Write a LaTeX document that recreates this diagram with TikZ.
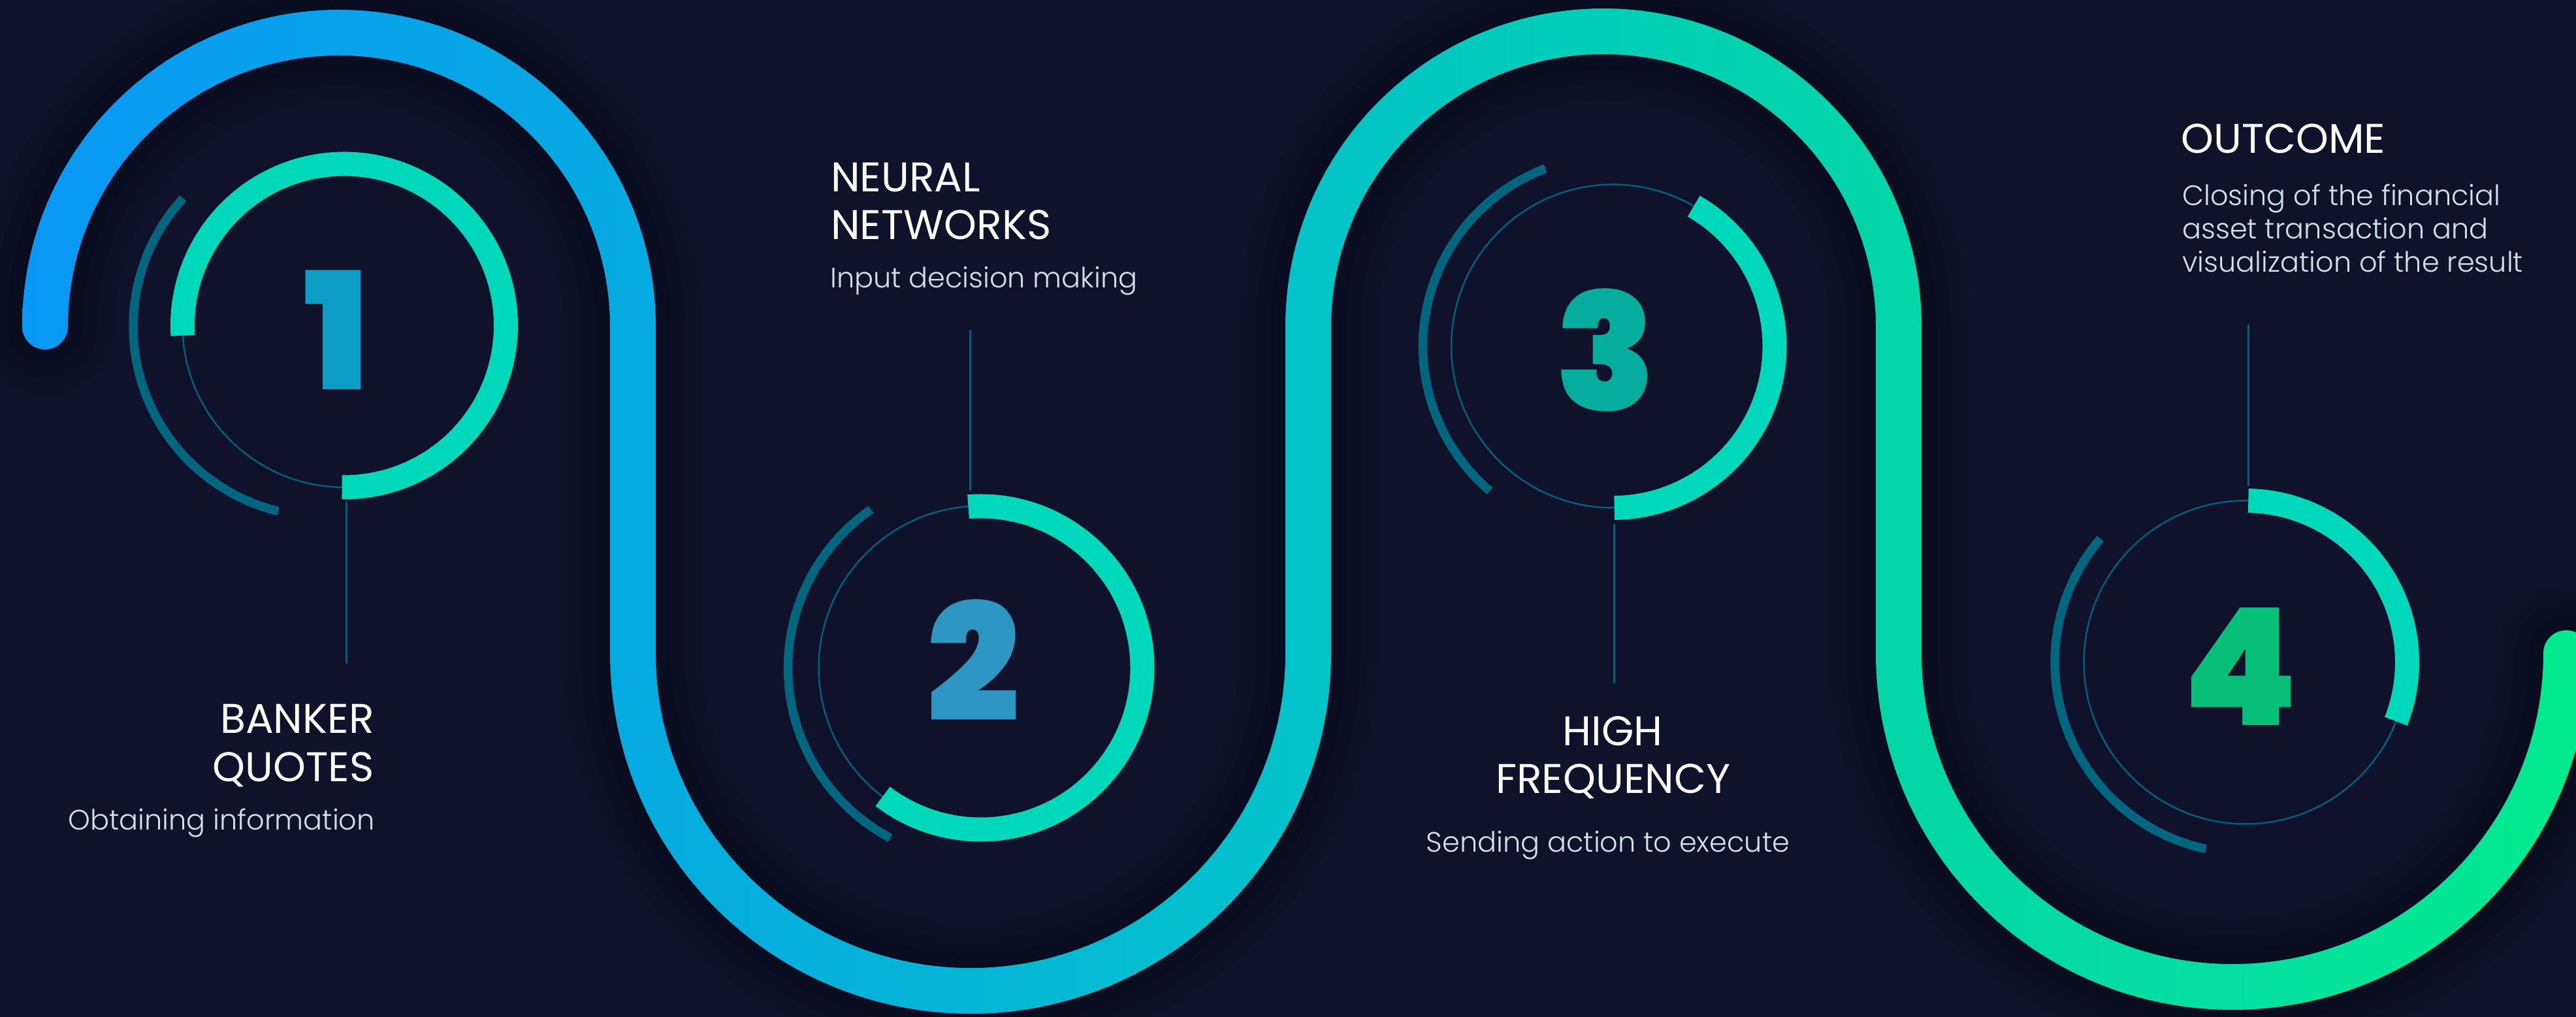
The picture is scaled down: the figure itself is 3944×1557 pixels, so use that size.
\documentclass[tikz,border=0pt]{standalone}
\usepackage{fontspec}
\usetikzlibrary{calc}
\IfFontExistsTF{Poppins Light}{\newfontfamily\sublight{Poppins Light}}{\newfontfamily\sublight{Poppins}}
\IfFontExistsTF{Poppins Black}{\newfontfamily\numfont{Poppins Black}}{\IfFontExistsTF{Poppins ExtraBold}{\newfontfamily\numfont{Poppins ExtraBold}}{\newfontfamily\numfont{Poppins}[FakeBold=2]}}
\newfontfamily\titlefont{Poppins}
\definecolor{bgcol}{HTML}{10122C}
\definecolor{ringcol}{HTML}{00D8BB}
\definecolor{darkarccol}{HTML}{00657F}
\definecolor{thincol}{HTML}{005F7C}
\definecolor{subcol}{HTML}{D3E2EA}
\definecolor{numA}{HTML}{0C9CC6}
\definecolor{numB}{HTML}{2E96C2}
\definecolor{numC}{HTML}{05AD9E}
\definecolor{numD}{HTML}{07BF78}
\definecolor{bA}{HTML}{0A98F6}
\definecolor{bB}{HTML}{06ABE1}
\definecolor{bC}{HTML}{05B5D7}
\definecolor{bD}{HTML}{04C3C9}
\definecolor{bE}{HTML}{02CEB7}
\definecolor{bF}{HTML}{03D6A9}
\definecolor{bG}{HTML}{04DFA0}
\definecolor{bH}{HTML}{02EB8E}
\pgfdeclarehorizontalshading{bandshade}{100bp}{color(0bp)=(bA); color(25bp)=(bA); color(36.9bp)=(bB); color(43.45bp)=(bC); color(50bp)=(bD); color(55.75bp)=(bE); color(61.5bp)=(bF); color(68bp)=(bG); color(75bp)=(bH); color(100bp)=(bH)}
\tikzset{
  greenring/.style={line width=37pt, draw=ringcol},
  outerarc/.style={line width=13.5pt, draw=darkarccol},
  thinring/.style={line width=2.5pt, draw=thincol},
  leader/.style={line width=3pt, draw=thincol},
  ttl/.style={text=white, font=\titlefont\fontsize{63.5}{74}\selectfont, inner sep=0pt},
  subttl/.style={text=subcol, font=\sublight\fontsize{43}{50}\selectfont, inner sep=0pt},
  numlabel/.style={font=\numfont\fontsize{250}{250}\selectfont, inner sep=0pt},
  shadowline/.style={draw=black, line cap=round},
}
\def\bandcenter{(69,1057) arc[start angle=180,end angle=0,radius=450] -- (969,557) arc[start angle=180,end angle=360,radius=517] -- (2003,1057) arc[start angle=180,end angle=0,radius=452] -- (2907,557) arc[start angle=180,end angle=360,radius=511]}
\begin{document}
\begin{tikzpicture}[x=1pt,y=1pt]
\useasboundingbox (0,0) rectangle (3944,1557);
\fill[bgcol] (0,0) rectangle (3944,1557);
% soft shadow of the band
\draw[shadowline, line width=210pt, opacity=0.07] \bandcenter;
\draw[shadowline, line width=160pt, opacity=0.09] \bandcenter;
\draw[shadowline, line width=115pt, opacity=0.12] \bandcenter;
% gradient band
\path[shading=bandshade] (34,1057) arc[start angle=180,end angle=0,radius=485] -- (1004,557)
  arc[start angle=180,end angle=360,radius=482] -- (1968,1057)
  arc[start angle=180,end angle=0,radius=487] -- (2942,557)
  arc[start angle=180,end angle=360,radius=476]
  arc[start angle=180,end angle=0,radius=35]
  arc[start angle=0,end angle=-180,radius=546] -- (2872,1057)
  arc[start angle=0,end angle=180,radius=417] -- (2038,557)
  arc[start angle=0,end angle=-180,radius=552] -- (934,1057)
  arc[start angle=0,end angle=180,radius=415]
  arc[start angle=0,end angle=-180,radius=35] -- cycle;
% centres
\coordinate (c1) at (527,1058.5);
\coordinate (d1) at (495,1057);
\coordinate (c2) at (1501.5,534.5);
\coordinate (c3) at (2469.5,1027);
\coordinate (c4) at (3438,543);
% step 1
\draw[thinring] (c1) circle[radius=247.5];
\draw[greenring] (c1) ++(183.5:247.5) arc[start angle=183.5,end angle=-90.8,radius=247.5];
\draw[outerarc] (d1) ++(137.6:291) arc[start angle=137.6,end angle=256.3,radius=291];
\node[numlabel, text=numA] (n1) at (515.5,1052) {1};
% step 2
\draw[thinring] (c2) circle[radius=248];
\draw[greenring] (c2) ++(94.4:247.5) arc[start angle=94.4,end angle=-127.3,radius=247.5];
\draw[outerarc] (c2) ++(124.7:295) arc[start angle=124.7,end angle=242,radius=295];
\node[numlabel, text=numB] (n2) at (1490.6,546) {2};
% step 3
\draw[thinring] (c3) circle[radius=247.5];
\draw[greenring] (c3) ++(-89.5:247.5) arc[start angle=-89.5,end angle=60,radius=247.5];
\draw[outerarc] (c3) ++(110.8:291) arc[start angle=110.8,end angle=229.6,radius=291];
\node[numlabel, text=numC] (n3) at (2458,1021) {3};
% step 4
\draw[thinring] (c4) circle[radius=247.5];
\draw[greenring] (c4) ++(89:247.5) arc[start angle=89,end angle=-21.4,radius=247.5];
\draw[outerarc] (c4) ++(139.6:292) arc[start angle=139.6,end angle=258,radius=292];
\node[numlabel, text=numD] (n4) at (3430.6,536) {4};
% leader lines
\coordinate (l1a) at (530,788);   \coordinate (l1b) at (530,541);
\coordinate (l2a) at (1485,1052); \coordinate (l2b) at (1485,806);
\coordinate (l3a) at (2471.5,755); \coordinate (l3b) at (2471.5,511);
\coordinate (l4a) at (3442,1060); \coordinate (l4b) at (3442,813);
\draw[leader] (l1a) -- (l1b);
\draw[leader] (l2a) -- (l2b);
\draw[leader] (l3a) -- (l3b);
\draw[leader] (l4a) -- (l4b);
% texts step 1
\node[ttl, anchor=base east] (t1a) at (573,434) {BANKER};
\node[ttl, anchor=base east] (t1b) at (573,360) {QUOTES};
\node[subttl, anchor=base east] (s1) at (574,286) {Obtaining information};
% texts step 2
\node[ttl, anchor=base west] (t2a) at (1272,1263) {NEURAL};
\node[ttl, anchor=base west] (t2b) at (1272,1190) {NETWORKS};
\node[subttl, anchor=base west] (s2) at (1271,1116) {Input decision making};
% texts step 3
\node[ttl, anchor=base] (t3a) at (2469,415) {HIGH};
\node[ttl, anchor=base] (t3b) at (2470,342) {FREQUENCY};
\node[subttl, anchor=base] (s3) at (2462,252) {Sending action to execute};
% texts step 4
\node[ttl, anchor=base west] (t4a) at (3339,1322) {OUTCOME};
\node[subttl, anchor=base west] (s4a) at (3341,1242) {Closing of the financial};
\node[subttl, anchor=base west] (s4b) at (3341,1191) {asset transaction and};
\node[subttl, anchor=base west] (s4c) at (3341,1140) {visualization of the result};
\end{tikzpicture}
\end{document}
